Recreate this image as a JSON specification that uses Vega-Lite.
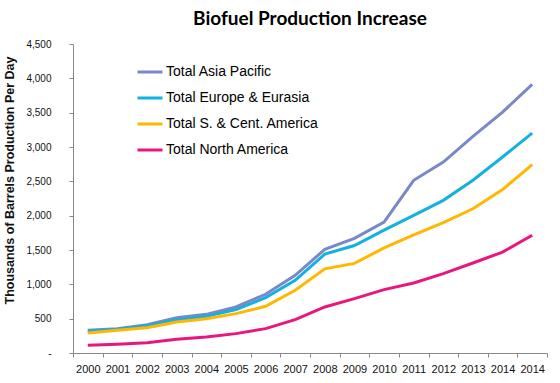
{
  "$schema": "https://vega.github.io/schema/vega-lite/v6.json",
  "width": 474,
  "height": 309,
  "autosize": "none",
  "padding": {"left": 73, "top": 44, "right": 13, "bottom": 30},
  "background": "white",
  "title": {"text": "Biofuel Production Increase", "font": "Lato", "fontSize": 19, "fontWeight": "bold", "color": "#000", "anchor": "middle", "offset": 10},
  "datasets": {
    "wide": [
      {"Year": "2000", "AP": 330, "EU": 320, "SA": 292, "NA": 112},
      {"Year": "2001", "AP": 355, "EU": 345, "SA": 330, "NA": 127},
      {"Year": "2002", "AP": 413, "EU": 393, "SA": 369, "NA": 150},
      {"Year": "2003", "AP": 515, "EU": 485, "SA": 451, "NA": 199},
      {"Year": "2004", "AP": 563, "EU": 534, "SA": 500, "NA": 233},
      {"Year": "2005", "AP": 670, "EU": 631, "SA": 573, "NA": 282},
      {"Year": "2006", "AP": 855, "EU": 806, "SA": 680, "NA": 355},
      {"Year": "2007", "AP": 1131, "EU": 1058, "SA": 913, "NA": 486},
      {"Year": "2008", "AP": 1510, "EU": 1440, "SA": 1225, "NA": 670},
      {"Year": "2009", "AP": 1670, "EU": 1565, "SA": 1305, "NA": 792},
      {"Year": "2010", "AP": 1905, "EU": 1790, "SA": 1530, "NA": 923},
      {"Year": "2011", "AP": 2515, "EU": 2005, "SA": 1720, "NA": 1020},
      {"Year": "2012", "AP": 2780, "EU": 2223, "SA": 1900, "NA": 1155},
      {"Year": "2013", "AP": 3155, "EU": 2515, "SA": 2100, "NA": 1311},
      {"Year": "2014", "AP": 3509, "EU": 2854, "SA": 2380, "NA": 1470},
      {"Year": "2014 ", "AP": 3912, "EU": 3203, "SA": 2743, "NA": 1714}
    ],
    "names": [
      {"Code": "AP", "Region": "Total Asia Pacific"},
      {"Code": "EU", "Region": "Total Europe & Eurasia"},
      {"Code": "SA", "Region": "Total S. & Cent. America"},
      {"Code": "NA", "Region": "Total North America"}
    ]
  },
  "data": {"name": "wide"},
  "transform": [
    {"fold": ["AP", "EU", "SA", "NA"], "as": ["Code", "Value"]},
    {"lookup": "Code", "from": {"data": {"name": "names"}, "key": "Code", "fields": ["Region"]}}
  ],
  "mark": {"type": "line", "strokeWidth": 3},
  "encoding": {
    "x": {
      "field": "Year", "type": "ordinal",
      "scale": {"type": "band", "paddingInner": 0, "paddingOuter": 0},
      "axis": {"title": null, "labelAngle": 0, "tickBand": "extent", "labelExpr": "trim(datum.label)", "labelFont": "Liberation Sans", "labelFontSize": 11, "labelColor": "#111", "domainColor": "#888", "tickColor": "#888", "tickSize": 4, "labelPadding": 6}
    },
    "y": {
      "field": "Value", "type": "quantitative",
      "scale": {"domain": [0, 4500], "nice": false},
      "axis": {"title": "Thousands of Barrels Production Per Day", "titleFont": "Liberation Sans", "titleFontSize": 12.5, "titleFontWeight": "bold", "titleColor": "#111", "titleX": -57, "titleY": 136, "values": [0, 500, 1000, 1500, 2000, 2500, 3000, 3500, 4000, 4500], "labelExpr": "datum.value == 0 ? '-' : format(datum.value, ',')", "labelFont": "Liberation Sans", "labelFontSize": 10, "labelColor": "#111", "domainColor": "#888", "tickColor": "#888", "tickSize": 4, "labelPadding": 18, "grid": false}
    },
    "color": {
      "field": "Region", "type": "nominal",
      "scale": {"domain": ["Total Asia Pacific", "Total Europe & Eurasia", "Total S. & Cent. America", "Total North America"], "range": ["#7888c8", "#14b0df", "#ffb700", "#e8177e"]},
      "legend": {"orient": "none", "legendX": 63, "legendY": 14, "title": null, "symbolType": "stroke", "symbolSize": 625, "symbolStrokeWidth": 3, "labelFont": "Liberation Sans", "labelFontSize": 14, "labelColor": "#000", "labelOffset": 2, "rowPadding": 5}
    }
  },
  "config": {"view": {"stroke": null}}
}
